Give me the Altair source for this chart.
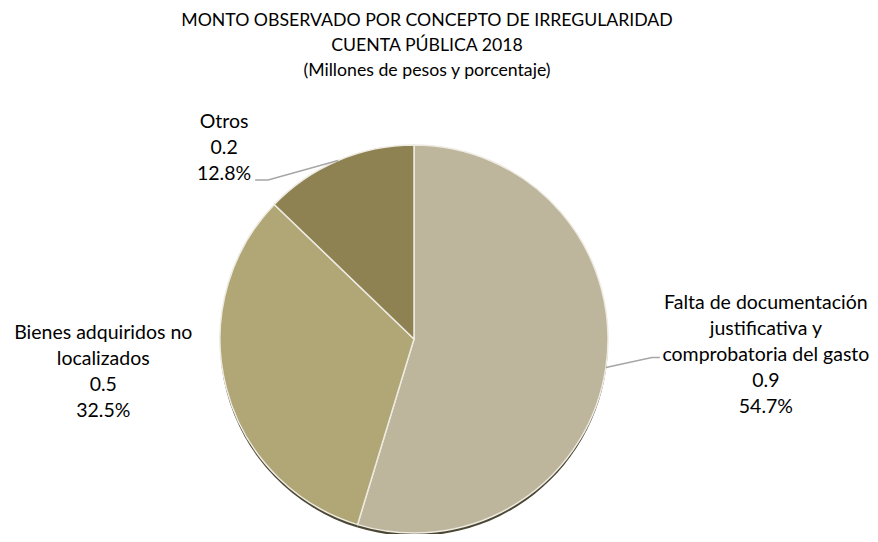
import math
import altair as alt
import pandas as pd

# ---- data ----
categories = [
    "Falta de documentación justificativa y comprobatoria del gasto",
    "Bienes adquiridos no localizados",
    "Otros",
]
label_lines = [
    ["Falta de documentación", "justificativa y", "comprobatoria del gasto"],
    ["Bienes adquiridos no", "localizados"],
    ["Otros"],
]
amounts = [0.9, 0.5, 0.2]
percents = [54.7, 32.5, 12.8]
colors = ["#BDB59C", "#B1A675", "#8E8152"]

title_lines = [
    "MONTO OBSERVADO POR CONCEPTO DE IRREGULARIDAD",
    "CUENTA PÚBLICA 2018",
    "(Millones de pesos y porcentaje)",
]

# ---- layout constants ----
W, H_TOTAL, PAD_TOP = 862, 526, 80
H = H_TOTAL - PAD_TOP
CX, CY = 406, 251          # pie centre inside the view
R = 194
FONT = "Lato"
FS = 19.5
LH = 26

xs = alt.Scale(domain=[-CX, W - CX], nice=False, zero=False)
ys = alt.Scale(domain=[CY - H, CY], nice=False, zero=False)

df = pd.DataFrame({
    "idx": list(range(len(categories))),
    "cat": categories,
    "pct": percents,
})

# mid angles of slices (clockwise from 12 o'clock)
mids, cum = [], 0.0
for p in percents:
    mids.append((cum + p / 2) / 100 * 2 * math.pi)
    cum += p
edges = [(R * math.sin(a), R * math.cos(a)) for a in mids]

# label anchors (first line) as offsets from slice edge points
label_off = [(160, 64.7), (-123, 54.9), (-114, 38.5)]
lab = pd.DataFrame({
    "x": [e[0] + o[0] for e, o in zip(edges, label_off)],
    "y": [e[1] + o[1] for e, o in zip(edges, label_off)],
    "txt": ["\n".join(ls + [f"{a:.1f}", f"{p:.1f}%"])
            for ls, a, p in zip(label_lines, amounts, percents)],
})

# leader lines (Falta and Otros)
lead_off = {0: [(0, 0), (46, 10), (54, 10)], 2: [(0, 0), (-70, -19.5), (-83, -19.5)]}
lrows = []
for i, offs in lead_off.items():
    for k, (dx, dy) in enumerate(offs):
        lrows.append({"s": i, "o": k, "x": edges[i][0] + dx, "y": edges[i][1] + dy})
lead = pd.DataFrame(lrows)

theta = alt.Theta("pct:Q", stack=True)
order = alt.Order("idx:Q")

shadow = alt.Chart(df).mark_arc(outerRadius=R, color="#4B4734").encode(
    theta=theta, order=order, x=alt.value(CX), y=alt.value(CY + 3)
)
pie = alt.Chart(df).mark_arc(outerRadius=R, stroke="#EEEBE2", strokeWidth=1.5).encode(
    theta=theta,
    order=order,
    color=alt.Color("cat:N", scale=alt.Scale(domain=categories, range=colors), legend=None),
    x=alt.value(CX),
    y=alt.value(CY),
)
lines = alt.Chart(lead).mark_line(color="#A6A6A6", strokeWidth=1.5).encode(
    x=alt.X("x:Q", scale=xs, axis=None),
    y=alt.Y("y:Q", scale=ys, axis=None),
    detail="s:N",
    order="o:Q",
)
labels = alt.Chart(lab).mark_text(
    font=FONT, fontSize=FS, lineHeight=LH, lineBreak="\n", align="center",
    baseline="middle", color="#000000"
).encode(
    x=alt.X("x:Q", scale=xs, axis=None),
    y=alt.Y("y:Q", scale=ys, axis=None),
    text="txt:N",
)

chart = alt.layer(shadow, pie, lines, labels).properties(
    width=W,
    height=H,
    padding={"top": PAD_TOP, "left": 0, "right": 0, "bottom": 0},
    autosize="none",
    title=alt.Title(
        title_lines, font=FONT, fontSize=17.7, fontWeight="normal", color="#000000",
        lineHeight=25, anchor="middle", dx=-12, offset=8,
    ),
).configure_view(stroke=None)

chart.save("out.html", embed_options={"renderer": "svg", "actions": False})
